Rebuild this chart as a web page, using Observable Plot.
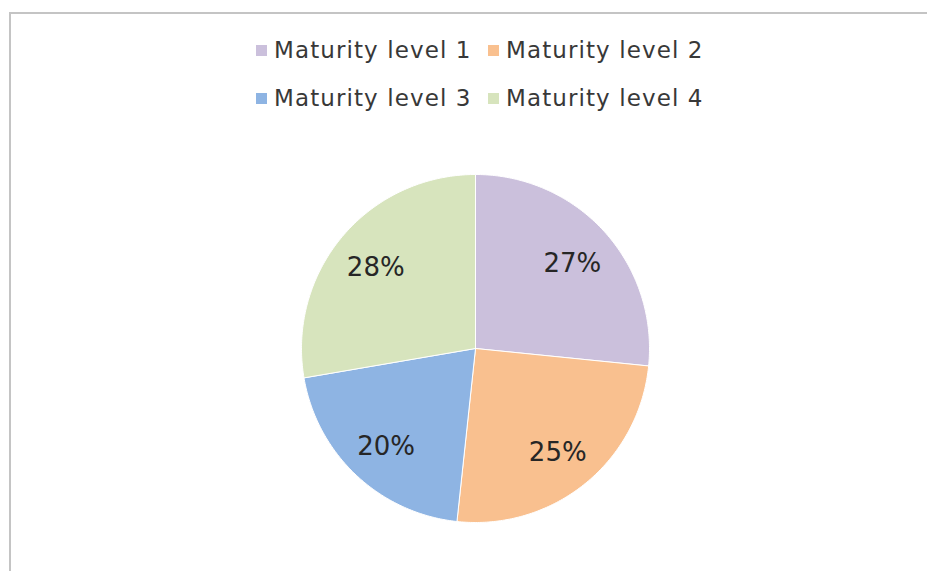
<!DOCTYPE html>
<html>
<head>
<meta charset="utf-8">
<script src="https://cdn.jsdelivr.net/npm/d3@7"></script>
<script src="https://cdn.jsdelivr.net/npm/@observablehq/plot@0.6"></script>
<style>
  html, body { margin: 0; padding: 0; background: #fff; overflow: hidden; width: 927px; height: 571px; }
  #wrap { position: relative; width: 927px; height: 571px; }
  #frame { position: absolute; left: 9px; top: 12px; width: 2000px; height: 2000px; border: 2px solid #c4c4c4; box-sizing: border-box; }
  #chart { position: absolute; left: 0; top: 0; }
  .item { position: absolute; display: flex; align-items: center; font-family: "DejaVu Sans", Verdana, sans-serif; font-size: 23px; letter-spacing: 1.1px; color: #383838; white-space: nowrap; line-height: 30px; }
  .sw { width: 11px; height: 11px; margin-right: 7px; }
</style>
</head>
<body>
<div id="wrap">
  <div id="frame"></div>
  <div id="chart"></div>
  <div id="legend"></div>
</div>
<script>
const categories = ["Maturity level 1", "Maturity level 2", "Maturity level 3", "Maturity level 4"];
const values = [26.6, 25.1, 20.6, 27.7];
const labels = ["27%", "25%", "20%", "28%"];
const colors = ["#CBC0DC", "#F9C08F", "#8EB4E3", "#D7E4BD"];

// Slice outlines in unit-circle data space (angle clockwise from top)
const total = d3.sum(values);
const slices = [];
const labelRows = [];
let acc = 0;
values.forEach((v, i) => {
  const a0 = acc / total * 2 * Math.PI;
  acc += v;
  const a1 = acc / total * 2 * Math.PI;
  slices.push({cat: categories[i], x: 0, y: 0});
  const n = 120;
  for (let j = 0; j <= n; j++) {
    const a = a0 + (a1 - a0) * j / n;
    slices.push({cat: categories[i], x: Math.sin(a), y: Math.cos(a)});
  }
  slices.push({cat: categories[i], x: 0, y: 0});
  const am = (a0 + a1) / 2;
  labelRows.push({cat: categories[i], label: labels[i], x: 0.75 * Math.sin(am), y: 0.75 * Math.cos(am)});
});

const cx = 475, cy = 348, r = 174;
const chart = Plot.plot({
  width: 927,
  height: 571,
  margin: 0,
  x: {domain: [-1, 1], range: [cx - r, cx + r], axis: null},
  y: {domain: [-1, 1], range: [cy + r, cy - r], axis: null},
  color: {domain: categories, range: colors},
  style: {background: "transparent"},
  marks: [
    Plot.line(slices, {x: "x", y: "y", z: "cat", fill: "cat", stroke: "#ffffff", strokeWidth: 1, curve: "linear"}),
    Plot.text(labelRows, {x: "x", y: "y", dy: 3, text: "label", fill: "#262626", fontSize: 26, fontFamily: "DejaVu Sans, Verdana, sans-serif"})
  ]
});
document.getElementById("chart").appendChild(chart);

// Legend (2 x 2)
const pos = [[256, 35], [488, 35], [256, 83], [488, 83]];
const legend = document.getElementById("legend");
categories.forEach((c, i) => {
  const it = document.createElement("div");
  it.className = "item";
  it.style.left = pos[i][0] + "px";
  it.style.top = pos[i][1] + "px";
  const sw = document.createElement("span");
  sw.className = "sw";
  sw.style.background = colors[i];
  const tx = document.createElement("span");
  tx.textContent = c;
  it.appendChild(sw);
  it.appendChild(tx);
  legend.appendChild(it);
});
</script>
</body>
</html>
